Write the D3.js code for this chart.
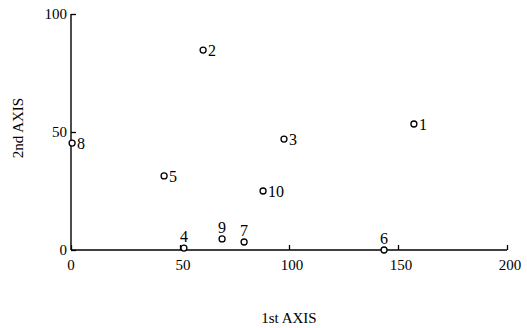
<!DOCTYPE html>
<html>
<head>
<meta charset="utf-8">
<script src="https://cdn.jsdelivr.net/npm/d3@7"></script>
<style>
body { margin:0; background:#fff; }
text { font-family:"Liberation Serif","Times New Roman",serif; fill:#000; }
</style>
</head>
<body>
<script>
// DATA
var site_ids = ["1","2","3","4","5","6","7","8","9","10"];
var axis1 = [157.3, 60.6, 97.7, 51.8, 42.7, 143.6, 79.4, 0.5, 69.3, 88.1];
var axis2 = [53.4, 84.7, 47.0, 0.8, 31.4, 0.0, 3.4, 45.3, 4.7, 25.0];
var x_ticks = [0, 50, 100, 150, 200];
var y_ticks = [0, 50, 100];

var points = site_ids.map(function(id, i){ return {"id":id, "x":axis1[i], "y":axis2[i]}; });

var width = 527, height = 328;

var svg = d3.select("body").append("svg")
	.attr("width", width)
	.attr("height", height);

var x = d3.scaleLinear().domain([0, 200]).range([71, 507]);
var y = d3.scaleLinear().domain([0, 100]).range([250, 14]);

// x axis, ticks point up into the plot
var gx = svg.append("g")
	.attr("transform", "translate(0," + y(0) + ")")
	.call(d3.axisTop(x).tickValues(x_ticks).tickSize(5).tickFormat(""));
gx.select(".domain").attr("stroke", "#000").attr("stroke-width", 1.4).attr("d", "M" + x(0) + ",0H" + x(200));
gx.selectAll(".tick line").attr("stroke", "#000").attr("stroke-width", 1.3);

svg.selectAll(".xlab")
	.data(x_ticks)
	.enter()
	.append("text")
	.attr("class", "xlab")
	.attr("x", function(d){ return x(d) + (d == 0 ? 0 : 3); })
	.attr("y", y(0) + 20)
	.attr("text-anchor", "middle")
	.attr("font-size", 15)
	.text(function(d){ return d; });

// y axis, ticks point right
var gy = svg.append("g")
	.attr("transform", "translate(" + x(0) + ",0)")
	.call(d3.axisRight(y).tickValues(y_ticks).tickSize(5).tickFormat(""));
gy.select(".domain").attr("stroke", "#000").attr("stroke-width", 1.4).attr("d", "M0," + y(100) + "V" + y(0));
gy.selectAll(".tick line").attr("stroke", "#000").attr("stroke-width", 1.3);

svg.selectAll(".ylab")
	.data(y_ticks)
	.enter()
	.append("text")
	.attr("class", "ylab")
	.attr("x", x(0) - 4)
	.attr("y", function(d){ return y(d) + 5; })
	.attr("text-anchor", "end")
	.attr("font-size", 15)
	.text(function(d){ return d; });

// axis titles
svg.append("text")
	.attr("x", 289)
	.attr("y", 323)
	.attr("text-anchor", "middle")
	.attr("font-size", 15)
	.text("1st AXIS");

svg.append("text")
	.attr("transform", "translate(23,128) rotate(-90)")
	.attr("text-anchor", "middle")
	.attr("font-size", 15)
	.text("2nd AXIS");

// points
svg.selectAll("circle")
	.data(points)
	.enter()
	.append("circle")
	.attr("cx", function(d){ return x(d.x); })
	.attr("cy", function(d){ return y(d.y); })
	.attr("r", 3)
	.attr("fill", "#fff")
	.attr("stroke", "#000")
	.attr("stroke-width", 1.3);

// labels: points lying on the x axis get their number above
svg.selectAll(".plab")
	.data(points)
	.enter()
	.append("text")
	.attr("class", "plab")
	.attr("x", function(d){ return d.y < 6 ? x(d.x) : x(d.x) + 5; })
	.attr("y", function(d){ return d.y < 6 ? y(d.y) - 6 : y(d.y) + 6; })
	.attr("text-anchor", function(d){ return d.y < 6 ? "middle" : "start"; })
	.attr("font-size", 16)
	.text(function(d){ return d.id; });
</script>
</body>
</html>
